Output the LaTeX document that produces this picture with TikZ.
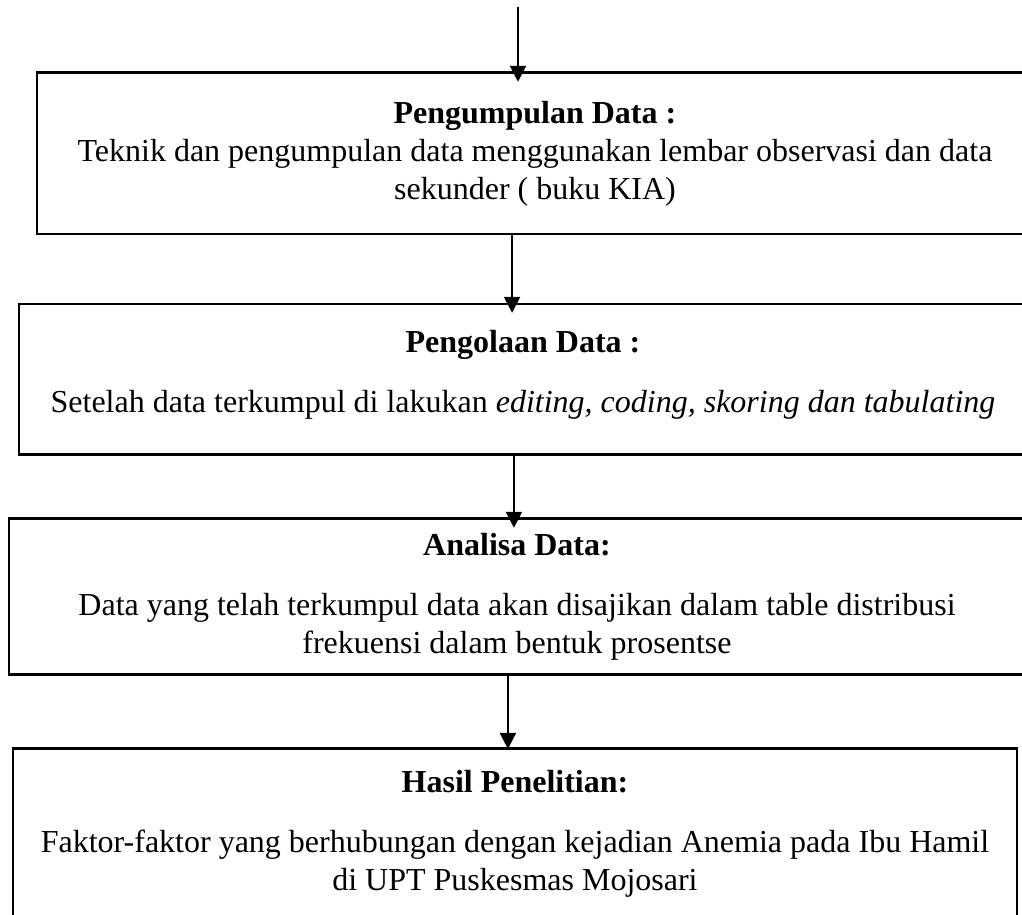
\documentclass[tikz,border=0pt]{standalone}
\usepackage{fontspec}
\setmainfont{Liberation Serif}
\usetikzlibrary{positioning,arrows.meta}

\begin{document}
\begin{tikzpicture}[x=0.375pt, y=-0.375pt, >={Triangle[length=6pt,width=6pt]},
    box/.style={rectangle, draw, line width=1.1pt, align=center, inner sep=0pt, outer sep=0pt,
        font=\fontsize{12}{14.25}\selectfont},
    arr/.style={->, line width=0.75pt, shorten >=-3.3pt}]
    \clip (0,0) rectangle (1022,915);
    \coordinate (top) at (518,7);
    \node[box, minimum width=373.5pt, minimum height=60.4pt] (collect) at (535,153.5)
        {\textbf{Pengumpulan Data :}\\
         Teknik dan pengumpulan data menggunakan lembar observasi dan data\\
         sekunder ( buku KIA)};
    \node[box, minimum width=378pt, minimum height=56.6pt, below=26.25pt of collect, xshift=-4.5pt] (process)
        {\textbf{Pengolaan Data :}\\[8.25pt]
         Setelah data terkumpul di lakukan \textit{editing, coding, skoring dan tabulating}\\[-8.25pt]
         \mbox{}};
    \node[box, minimum width=381pt, minimum height=58.5pt, below=24pt of process, xshift=-2.25pt] (analysis)
        {\textbf{Analisa Data:}\\[8.25pt]
         Data yang telah terkumpul data akan disajikan dalam table distribusi\\
         frekuensi dalam bentuk prosentse};
    \node[box, minimum width=376.5pt, minimum height=63.4pt, below=27.75pt of analysis, xshift=-0.75pt] (result)
        {\textbf{Hasil Penelitian:}\\[8.25pt]
         Faktor-faktor yang berhubungan dengan kejadian Anemia pada Ibu Hamil\\
         di UPT Puskesmas Mojosari};

    % arrow positions
    \coordinate (a1) at ([xshift=-8.6pt]collect.south);
    \coordinate (a2) at ([xshift=-3.4pt]process.south);
    \coordinate (a3) at ([xshift=-3.4pt]analysis.south);

    \draw[arr] (top) -- (top |- collect.north);
    \draw[arr] (a1) -- (a1 |- process.north);
    \draw[arr] (a2) -- (a2 |- analysis.north);
    \draw[arr, shorten >=0pt] (a3) -- (a3 |- result.north);
\end{tikzpicture}
\end{document}
